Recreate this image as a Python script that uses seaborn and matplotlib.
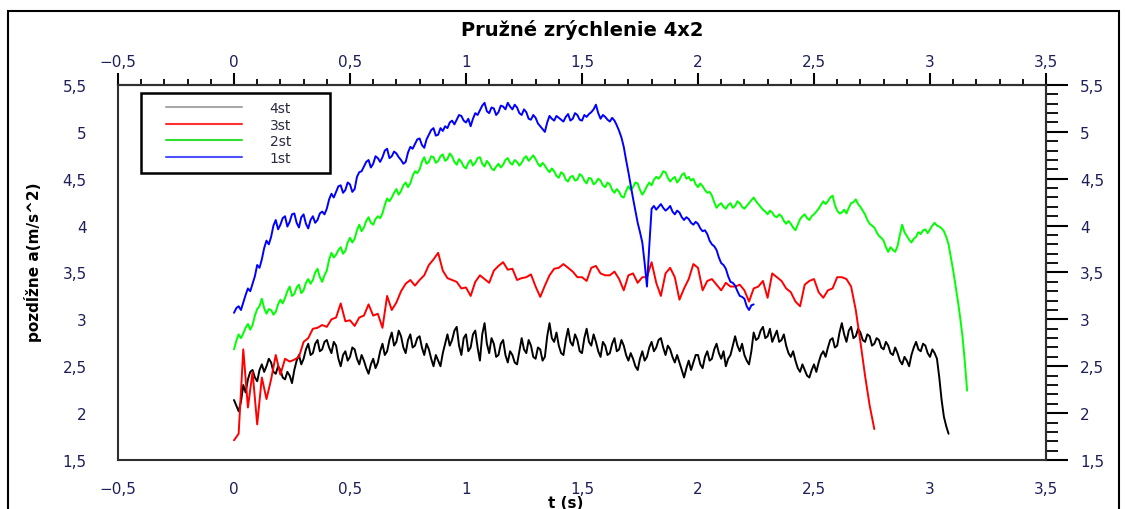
import numpy as np
import pandas as pd
import matplotlib
matplotlib.use("Agg")
import matplotlib.pyplot as plt
from matplotlib.ticker import MultipleLocator, FixedLocator, FuncFormatter
from matplotlib.lines import Line2D
from matplotlib.legend_handler import HandlerLine2D
from matplotlib.patches import Rectangle
import seaborn as sns

TITLE = "Pružné zrýchlenie 4x2"
XLABEL = "t (s)"
YLABEL = "pozdĺžne a(m/s^2)"

series_labels = ["4st", "3st", "2st", "1st"]
line_colors = ["#000000", "#ff0000", "#00ff00", "#0000ff"]
legend_colors = ["#a8a8a8", "#ff3030", "#30e030", "#5050ff"]

x_ticks = [-0.5, 0.0, 0.5, 1.0, 1.5, 2.0, 2.5, 3.0, 3.5]
y_ticks = [1.5, 2.0, 2.5, 3.0, 3.5, 4.0, 4.5, 5.0, 5.5]

# sampling step of each recording (s)
series_dt = [0.01, 0.02, 0.01, 0.01]

a_4st = [
    2.14, 2.08, 2.02, 2.12, 2.30, 2.22, 2.36, 2.44, 2.46, 2.38,
    2.34, 2.46, 2.52, 2.44, 2.50, 2.58, 2.54, 2.44, 2.42, 2.50,
    2.46, 2.38, 2.36, 2.44, 2.40, 2.32, 2.46, 2.56, 2.62, 2.52,
    2.58, 2.68, 2.74, 2.62, 2.64, 2.74, 2.78, 2.66, 2.68, 2.76,
    2.78, 2.70, 2.64, 2.76, 2.72, 2.58, 2.50, 2.62, 2.66, 2.56,
    2.60, 2.70, 2.68, 2.58, 2.52, 2.62, 2.56, 2.48, 2.42, 2.52,
    2.58, 2.48, 2.54, 2.66, 2.74, 2.62, 2.66, 2.78, 2.86, 2.72,
    2.76, 2.88, 2.82, 2.70, 2.64, 2.78, 2.84, 2.70, 2.72, 2.80,
    2.82, 2.70, 2.62, 2.74, 2.68, 2.58, 2.50, 2.62, 2.56, 2.50,
    2.64, 2.74, 2.84, 2.72, 2.78, 2.88, 2.92, 2.72, 2.62, 2.80,
    2.84, 2.66, 2.70, 2.84, 2.88, 2.70, 2.56, 2.84, 2.96, 2.74,
    2.64, 2.80, 2.74, 2.60, 2.62, 2.74, 2.78, 2.62, 2.54, 2.66,
    2.62, 2.54, 2.52, 2.66, 2.80, 2.68, 2.64, 2.78, 2.72, 2.60,
    2.58, 2.70, 2.68, 2.56, 2.60, 2.82, 2.96, 2.80, 2.76, 2.86,
    2.72, 2.64, 2.62, 2.78, 2.90, 2.76, 2.72, 2.84, 2.78, 2.66,
    2.64, 2.80, 2.90, 2.76, 2.72, 2.84, 2.76, 2.66, 2.60, 2.76,
    2.72, 2.62, 2.64, 2.74, 2.80, 2.66, 2.68, 2.78, 2.72, 2.62,
    2.56, 2.64, 2.58, 2.50, 2.46, 2.58, 2.66, 2.56, 2.60, 2.70,
    2.76, 2.66, 2.70, 2.78, 2.80, 2.70, 2.62, 2.72, 2.68, 2.60,
    2.54, 2.62, 2.54, 2.46, 2.38, 2.48, 2.56, 2.46, 2.54, 2.62,
    2.62, 2.52, 2.48, 2.60, 2.66, 2.56, 2.58, 2.68, 2.74, 2.64,
    2.58, 2.66, 2.50, 2.58, 2.62, 2.72, 2.82, 2.72, 2.66, 2.74,
    2.62, 2.56, 2.52, 2.66, 2.86, 2.78, 2.80, 2.88, 2.92, 2.80,
    2.82, 2.90, 2.76, 2.82, 2.88, 2.76, 2.78, 2.84, 2.72, 2.64,
    2.60, 2.66, 2.56, 2.48, 2.44, 2.52, 2.46, 2.40, 2.38, 2.46,
    2.52, 2.44, 2.54, 2.62, 2.66, 2.60, 2.70, 2.78, 2.80, 2.70,
    2.72, 2.86, 2.96, 2.84, 2.76, 2.88, 2.92, 2.80, 2.82, 2.90,
    2.86, 2.78, 2.76, 2.84, 2.82, 2.72, 2.74, 2.80, 2.78, 2.70,
    2.68, 2.76, 2.72, 2.64, 2.62, 2.70, 2.64, 2.56, 2.52, 2.60,
    2.56, 2.50, 2.62, 2.70, 2.76, 2.68, 2.66, 2.74, 2.72, 2.64,
    2.60, 2.68, 2.64, 2.58, 2.38, 2.14, 1.96, 1.86, 1.78,
]

a_3st = [
    1.71, 1.78, 2.68, 2.06, 2.44, 1.88, 2.38, 2.15, 2.36, 2.62,
    2.41, 2.58, 2.55, 2.57, 2.60, 2.76, 2.80, 2.90, 2.91, 2.94,
    2.92, 3.00, 3.02, 3.17, 2.98, 2.99, 2.93, 3.02, 3.04, 3.16,
    3.04, 3.06, 2.91, 3.25, 3.10, 3.18, 3.30, 3.38, 3.42, 3.36,
    3.42, 3.47, 3.58, 3.64, 3.71, 3.52, 3.44, 3.42, 3.40, 3.33,
    3.34, 3.25, 3.40, 3.47, 3.43, 3.39, 3.52, 3.57, 3.61, 3.53,
    3.54, 3.42, 3.44, 3.45, 3.48, 3.35, 3.24, 3.36, 3.47, 3.54,
    3.55, 3.59, 3.55, 3.51, 3.45, 3.45, 3.41, 3.55, 3.57, 3.49,
    3.47, 3.47, 3.51, 3.43, 3.31, 3.47, 3.49, 3.39, 3.45, 3.45,
    3.61, 3.39, 3.25, 3.49, 3.55, 3.45, 3.21, 3.33, 3.43, 3.59,
    3.55, 3.31, 3.41, 3.43, 3.37, 3.31, 3.39, 3.35, 3.35, 3.37,
    3.31, 3.19, 3.33, 3.35, 3.41, 3.23, 3.49, 3.45, 3.41, 3.33,
    3.29, 3.19, 3.14, 3.37, 3.41, 3.43, 3.29, 3.23, 3.31, 3.33,
    3.45, 3.45, 3.43, 3.35, 3.10, 2.76, 2.40, 2.08, 1.83,
]

a_2st = [
    2.68, 2.77, 2.84, 2.80, 2.85, 2.91, 2.95, 2.89, 2.94, 3.04,
    3.11, 3.14, 3.22, 3.12, 3.06, 3.11, 3.10, 3.05, 3.08, 3.16,
    3.21, 3.17, 3.23, 3.30, 3.35, 3.25, 3.27, 3.34, 3.37, 3.28,
    3.31, 3.39, 3.43, 3.38, 3.42, 3.50, 3.54, 3.45, 3.40, 3.47,
    3.52, 3.64, 3.71, 3.66, 3.69, 3.74, 3.77, 3.70, 3.73, 3.82,
    3.87, 3.82, 3.86, 3.95, 4.01, 3.94, 3.98, 4.05, 4.09, 4.03,
    4.01, 4.07, 4.10, 4.08, 4.13, 4.22, 4.29, 4.26, 4.30, 4.35,
    4.39, 4.33, 4.37, 4.43, 4.46, 4.41, 4.45, 4.53, 4.58, 4.56,
    4.60, 4.68, 4.73, 4.66, 4.68, 4.74, 4.73, 4.67, 4.69, 4.74,
    4.76, 4.69, 4.71, 4.77, 4.74, 4.68, 4.65, 4.71, 4.68, 4.63,
    4.61, 4.67, 4.70, 4.64, 4.67, 4.72, 4.73, 4.66, 4.63, 4.69,
    4.66, 4.61, 4.59, 4.63, 4.66, 4.62, 4.65, 4.70, 4.72, 4.67,
    4.65, 4.70, 4.68, 4.64, 4.67, 4.72, 4.74, 4.69, 4.72, 4.75,
    4.71, 4.66, 4.63, 4.67, 4.64, 4.60, 4.57, 4.61, 4.58, 4.53,
    4.51, 4.57, 4.55, 4.49, 4.47, 4.52, 4.53, 4.48, 4.49, 4.55,
    4.53, 4.48, 4.45, 4.51, 4.50, 4.44, 4.46, 4.50, 4.48, 4.43,
    4.41, 4.46, 4.44, 4.38, 4.35, 4.39, 4.36, 4.31, 4.30, 4.37,
    4.42, 4.38, 4.41, 4.46, 4.45, 4.38, 4.33, 4.37, 4.42, 4.46,
    4.43, 4.49, 4.52, 4.50, 4.53, 4.58, 4.57, 4.51, 4.47, 4.50,
    4.52, 4.46, 4.49, 4.54, 4.56, 4.50, 4.52, 4.48, 4.50, 4.44,
    4.41, 4.45, 4.42, 4.38, 4.35, 4.36, 4.32, 4.25, 4.19, 4.22,
    4.24, 4.20, 4.18, 4.22, 4.24, 4.19, 4.21, 4.26, 4.24, 4.20,
    4.18, 4.21, 4.24, 4.27, 4.30, 4.26, 4.23, 4.20, 4.17, 4.15,
    4.12, 4.16, 4.14, 4.10, 4.09, 4.12, 4.10, 4.05, 4.02, 4.05,
    4.02, 3.98, 3.95, 4.01, 4.07, 4.10, 4.12, 4.08, 4.06, 4.10,
    4.12, 4.15, 4.18, 4.22, 4.26, 4.23, 4.26, 4.30, 4.32, 4.22,
    4.16, 4.13, 4.14, 4.17, 4.13, 4.19, 4.24, 4.25, 4.28, 4.23,
    4.20, 4.16, 4.12, 4.06, 4.02, 4.00, 3.98, 3.93, 3.89, 3.87,
    3.84, 3.77, 3.72, 3.77, 3.74, 3.72, 3.78, 3.90, 4.01, 3.93,
    3.89, 3.85, 3.82, 3.86, 3.88, 3.93, 3.91, 3.95, 3.96, 3.92,
    3.96, 4.00, 4.03, 4.00, 3.99, 3.97, 3.94, 3.88, 3.80, 3.66,
    3.52, 3.36, 3.20, 3.02, 2.82, 2.55, 2.24,
]

a_1st = [
    3.07, 3.12, 3.14, 3.10, 3.18, 3.26, 3.33, 3.30, 3.38, 3.46,
    3.58, 3.55, 3.64, 3.76, 3.84, 3.80, 3.88, 4.00, 4.06, 3.96,
    4.01, 4.08, 4.10, 3.99, 4.04, 4.12, 4.13, 4.03, 3.98, 4.09,
    4.12, 4.02, 3.97, 4.06, 4.10, 4.03, 4.06, 4.13, 4.15, 4.12,
    4.18, 4.28, 4.34, 4.30, 4.36, 4.42, 4.43, 4.35, 4.38, 4.46,
    4.44, 4.36, 4.39, 4.52, 4.57, 4.58, 4.63, 4.68, 4.70, 4.62,
    4.66, 4.74, 4.72, 4.68, 4.73, 4.80, 4.82, 4.72, 4.74, 4.79,
    4.77, 4.73, 4.70, 4.66, 4.68, 4.78, 4.84, 4.82, 4.87, 4.92,
    4.93, 4.86, 4.83, 4.92, 4.97, 5.02, 5.04, 4.96, 4.97, 5.04,
    5.01, 5.06, 5.04, 5.10, 5.12, 5.08, 5.13, 5.18, 5.17, 5.12,
    5.10, 5.14, 5.06, 5.14, 5.20, 5.18, 5.23, 5.28, 5.31, 5.22,
    5.20, 5.26, 5.25, 5.18, 5.21, 5.28, 5.27, 5.24, 5.31, 5.27,
    5.24, 5.29, 5.26, 5.20, 5.18, 5.24, 5.21, 5.14, 5.13, 5.18,
    5.15, 5.09, 5.06, 5.03, 5.00, 5.10, 5.17, 5.14, 5.12, 5.17,
    5.15, 5.13, 5.11, 5.16, 5.19, 5.12, 5.14, 5.20, 5.18, 5.13,
    5.12, 5.18, 5.16, 5.19, 5.21, 5.24, 5.29, 5.20, 5.14, 5.18,
    5.16, 5.13, 5.11, 5.15, 5.12, 5.07, 5.01, 4.94, 4.84, 4.70,
    4.57, 4.43, 4.29, 4.16, 4.03, 3.93, 3.82, 3.60, 3.35, 3.78,
    4.18, 4.21, 4.17, 4.20, 4.23, 4.19, 4.16, 4.18, 4.21, 4.15,
    4.12, 4.16, 4.14, 4.09, 4.06, 4.09, 4.07, 4.03, 4.01, 4.04,
    4.02, 3.97, 3.94, 3.95, 3.91, 3.84, 3.80, 3.78, 3.74, 3.66,
    3.60, 3.58, 3.54, 3.46, 3.40, 3.39, 3.36, 3.30, 3.25, 3.24,
    3.22, 3.14, 3.10, 3.15, 3.16,
]

series_values = [a_4st, a_3st, a_2st, a_1st]

# long-form table for seaborn
frames = []
for lab, vals, dt in zip(series_labels, series_values, series_dt):
    v = np.asarray(vals, dtype=float)
    frames.append(pd.DataFrame({"t": np.arange(len(v)) * dt, "a": v, "serie": lab}))
df = pd.concat(frames, ignore_index=True)

sns.set_style("white")
plt.rcParams["font.family"] = ["DejaVu Sans"]

W, H = 1126, 510
fig = plt.figure(figsize=(W / 100, H / 100), dpi=100)
fig.patch.set_facecolor("white")
ax = fig.add_axes([118 / W, 1 - 461 / H, 928 / W, 375 / H])

sns.lineplot(
    data=df, x="t", y="a", hue="serie", hue_order=series_labels,
    palette=dict(zip(series_labels, line_colors)),
    estimator=None, sort=False, linewidth=1.4, legend=False, ax=ax,
)

ax.set_xlim(x_ticks[0], x_ticks[-1])
ax.set_ylim(y_ticks[0], y_ticks[-1])
ax.set_xlabel("")
ax.set_ylabel("")


def comma_fmt(v, _pos):
    s = f"{v:g}".replace(".", ",")
    return s.replace("-", "\u2212")


label_color = "#1e1e5a"
spine_color = "#303030"


def style_axis(axis, ticks):
    axis.set_major_locator(FixedLocator(ticks))
    axis.set_minor_locator(MultipleLocator(0.1))
    axis.set_major_formatter(FuncFormatter(comma_fmt))


style_axis(ax.xaxis, x_ticks)
style_axis(ax.yaxis, y_ticks)
ax.tick_params(axis="both", which="both", direction="out", top=False, right=False,
               color="black", labelcolor=label_color, labelsize=11)
ax.tick_params(axis="x", which="major", length=9.4, width=1.5, pad=5.5)
ax.tick_params(axis="x", which="minor", length=5, width=1.3)
ax.tick_params(axis="y", which="major", length=15.5, width=1.5, pad=7)
ax.tick_params(axis="y", which="minor", length=8.6, width=1.3)

for sp in ax.spines.values():
    sp.set_visible(True)
    sp.set_color(spine_color)
    sp.set_linewidth(1.5)

# mirrored scales on top and right
top = ax.secondary_xaxis("top")
style_axis(top.xaxis, x_ticks)
top.tick_params(which="both", direction="out", color="black",
                labelcolor=label_color, labelsize=11)
top.tick_params(which="major", length=8.6, width=1.5, pad=3.2)
top.tick_params(which="minor", length=4.5, width=1.3)
top.spines["top"].set_color(spine_color)
top.spines["top"].set_linewidth(1.5)

right = ax.secondary_yaxis("right")
style_axis(right.yaxis, y_ticks)
right.tick_params(which="both", direction="out", color="black",
                  labelcolor=label_color, labelsize=11)
right.tick_params(which="major", length=15.5, width=1.5, pad=9)
right.tick_params(which="minor", length=8.6, width=1.3)
right.spines["right"].set_color(spine_color)
right.spines["right"].set_linewidth(1.5)

# legend with thin sample lines
handles = [Line2D([0], [0], color=c, lw=1.5) for c in legend_colors]
leg = ax.legend(handles, series_labels, loc="upper left",
                bbox_to_anchor=(23 / 928, (461 - 172) / 375, 189 / 928, 78 / 375),
                mode="expand", borderaxespad=0, frameon=True, fancybox=False,
                edgecolor="black", framealpha=1, fontsize=10,
                handlelength=6.67, handletextpad=2.0, borderpad=0.6,
                labelspacing=0.18,
                handler_map={Line2D: HandlerLine2D(xpad=1.22)})
leg.get_frame().set_linewidth(1.8)
for txt in leg.get_texts():
    txt.set_color("#2a2a40")

fig.text(582 / W, 1 - 30 / H, TITLE, ha="center", va="center",
         fontsize=14, fontweight="bold", color="black")
fig.text(566 / W, 1 - 503.5 / H, XLABEL, ha="center", va="center",
         fontsize=11, fontweight="bold", color="black")
fig.text(33 / W, 1 - 262 / H, YLABEL, ha="center", va="center", rotation=90,
         fontsize=11, fontweight="bold", color="black",
         family=["Liberation Sans Narrow", "DejaVu Sans"])

# outer frame around the whole chart
fig.add_artist(Rectangle((8 / W, -0.05), (1119 - 8) / W, 1 - 12 / H + 0.05,
                         transform=fig.transFigure, fill=False,
                         lw=1.5, ec="black"))

fig.savefig("out.png", dpi=100, facecolor="white")
